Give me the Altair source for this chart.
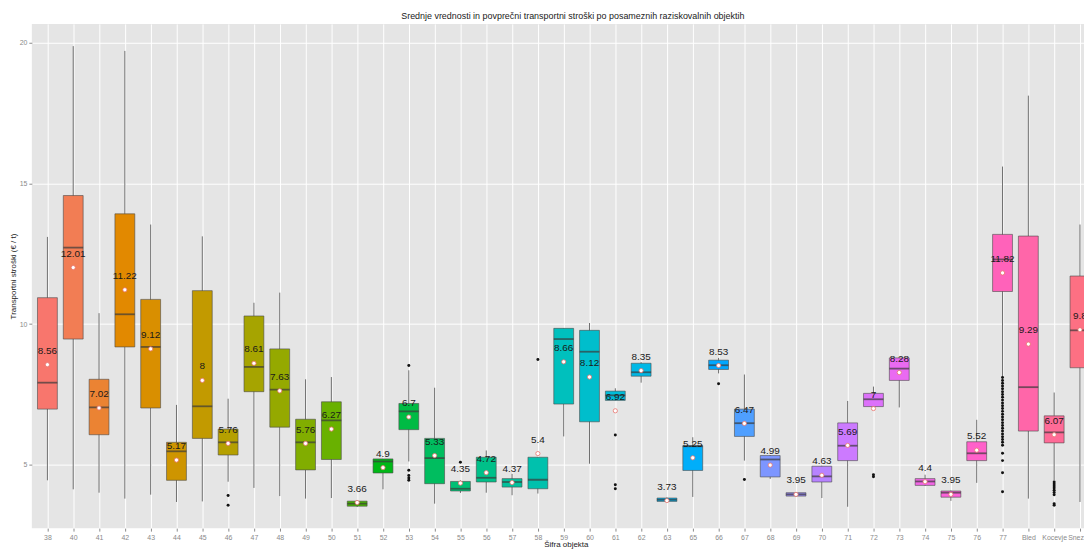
import math
import altair as alt
import pandas as pd

# ---------------- data ----------------
categories = ["38", "40", "41", "42", "43", "44", "45", "46", "47", "48", "49", "50",
              "51", "52", "53", "54", "55", "56", "57", "58", "59", "60", "61", "62",
              "63", "65", "66", "67", "68", "69", "70", "71", "72", "73", "74", "75",
              "76", "77", "Bled", "Kocevje", "Sneznik"]

q1 = [6.98, 9.47, 6.07, 9.19, 7.02, 4.45, 5.94, 5.35, 7.60, 6.34, 4.82, 5.19,
      3.53, 4.71, 6.25, 4.33, 4.07, 4.39, 4.21, 4.15, 7.16, 6.53, 7.29, 8.15,
      3.70, 4.80, 8.39, 6.01, 4.57, 3.89, 4.39, 5.15, 7.07, 8.00, 4.27, 3.85,
      5.15, 11.16, 6.20, 5.78, 8.45]
median = [7.92, 12.72, 7.04, 10.35, 9.19, 5.48, 7.08, 5.80, 8.48, 7.67, 5.80, 6.58,
          3.62, 5.12, 6.90, 5.24, 4.15, 4.54, 4.39, 4.47, 9.47, 9.02, 7.47, 8.29,
          3.76, 5.66, 8.54, 6.48, 5.19, 3.95, 4.59, 5.68, 7.33, 8.42, 4.41, 4.01,
          5.41, 12.30, 7.76, 6.15, 9.78]
q3 = [10.94, 14.57, 8.04, 13.92, 10.88, 5.80, 11.19, 6.27, 10.29, 9.12, 6.62, 7.24,
      3.71, 5.21, 7.18, 5.94, 4.41, 5.27, 4.51, 5.27, 9.85, 9.78, 7.62, 8.61,
      3.82, 5.68, 8.72, 6.98, 5.33, 4.01, 4.95, 6.49, 7.54, 8.80, 4.51, 4.07,
      5.82, 13.19, 13.13, 6.74, 11.71]
whisker_lo = [4.45, 4.13, 4.01, 3.80, 3.94, 3.68, 3.70, 4.40, 4.18, 3.89, 3.80, 3.82,
              3.50, 4.13, 5.12, 3.62, 4.00, 4.01, 3.92, 3.98, 6.01, 5.04, 7.29, 7.92,
              3.68, 3.86, 8.25, 5.15, 4.50, 3.87, 3.82, 3.51, 7.00, 7.04, 4.25, 3.72,
              4.36, 8.13, 3.80, 4.45, 3.68]
whisker_hi = [13.10, 19.88, 10.39, 19.71, 13.54, 7.13, 13.12, 7.35, 10.76, 11.12, 8.04, 8.12,
              3.75, 5.21, 8.36, 7.74, 4.45, 5.51, 4.68, 5.27, 9.85, 10.04, 7.72, 8.65,
              3.84, 5.98, 8.80, 8.21, 5.35, 4.03, 4.97, 7.27, 7.78, 8.80, 4.65, 4.09,
              6.60, 15.60, 18.12, 7.57, 13.54]
means = [8.56, 12.01, 7.02, 11.22, 9.12, 5.17, 8.0, 5.76, 8.61, 7.63, 5.76, 6.27,
         3.66, 4.9, 6.7, 5.33, 4.35, 4.72, 4.37, 5.4, 8.66, 8.12, 6.92, 8.35,
         3.73, 5.25, 8.53, 6.47, 4.99, 3.95, 4.63, 5.69, 7.0, 8.28, 4.4, 3.95,
         5.52, 11.82, 9.29, 6.07, 9.8]

outlier_cat = (["46"] * 2 + ["53"] * 5 + ["55"] + ["58"] + ["61"] * 3 + ["66"] + ["67"]
               + ["72"] * 2 + ["77"] * 29 + ["Kocevje"] * 9)
outlier_val = [3.91, 3.56,
               8.53, 4.81, 4.62, 4.53, 4.45,
               5.09,
               8.74,
               6.06, 4.29, 4.15,
               7.88,
               4.48,
               4.65, 4.58,
               8.10, 8.00, 7.90, 7.80, 7.70, 7.60, 7.50, 7.40, 7.30, 7.20, 7.10, 7.00,
               6.90, 6.80, 6.70, 6.60, 6.50, 6.40, 6.30, 6.20, 6.10, 6.00, 5.90, 5.80,
               5.70, 5.41, 5.15, 4.72, 4.04,
               4.39, 4.32, 4.25, 4.18, 4.10, 4.02, 3.94, 3.62, 3.56]

y_ticks = [5, 10, 15, 20]


# ---------------- ggplot-like hue palette ----------------
def hcl_hex(h, c=100.0, l=65.0):
    hr = math.radians(h)
    u, v = c * math.cos(hr), c * math.sin(hr)
    Xn, Yn, Zn = 95.047, 100.0, 108.883
    den = Xn + 15 * Yn + 3 * Zn
    un, vn = 4 * Xn / den, 9 * Yn / den
    Y = Yn * (((l + 16) / 116) ** 3 if l > 8 else l / 903.3)
    up = u / (13 * l) + un
    vp = v / (13 * l) + vn
    X = Y * 9 * up / (4 * vp)
    Z = Y * (12 - 3 * up - 20 * vp) / (4 * vp)
    X, Y, Z = X / 100, Y / 100, Z / 100
    r = 3.240479 * X - 1.537150 * Y - 0.498535 * Z
    g = -0.969256 * X + 1.875992 * Y + 0.041556 * Z
    b = 0.055648 * X - 0.204043 * Y + 1.057311 * Z

    def gam(t):
        t = 12.92 * t if t <= 0.0031308 else 1.055 * t ** (1 / 2.4) - 0.055
        return int(round(max(0.0, min(1.0, t)) * 255))

    return "#{:02X}{:02X}{:02X}".format(gam(r), gam(g), gam(b))


n = len(categories)
palette = [hcl_hex(15 + i * 360.0 / n) for i in range(n)]
index = {c: i for i, c in enumerate(categories)}

boxes = pd.DataFrame({
    "obj": categories, "pos": list(range(n)), "q1": q1, "median": median, "q3": q3,
    "lo": whisker_lo, "hi": whisker_hi, "mean": means,
    "label": [f"{m:g}" for m in means],
})
outliers = pd.DataFrame({"obj": outlier_cat, "pos": [index[c] for c in outlier_cat],
                         "val": outlier_val})

# x: one unit per object; the panel is cut at the right edge like the reference
xscale = alt.Scale(domain=[-0.604, 40.156], nice=False, zero=False, padding=0)
yscale = alt.Scale(domain=[2.75, 20.67], nice=False, zero=False, padding=0)

label_expr = "[" + ",".join(f"'{c}'" for c in categories) + "][datum.value]"
x_axis = alt.Axis(title="Šifra objekta", values=list(range(n)), labelExpr=label_expr,
                  labelAngle=0, labelOverlap=False, labelBound=False, labelFlush=False,
                  titleX=538, titleY=12, titleBaseline="top")
y_axis = alt.Axis(title="Transportni stroški (€ / t)", values=y_ticks)


def X():
    return alt.X("pos:Q", scale=xscale, axis=x_axis)


def Y(field):
    return alt.Y(field, scale=yscale, axis=y_axis)


base = alt.Chart(boxes)

whiskers = base.mark_rule(color="#6f6f6f", strokeWidth=1).encode(
    x=X(), y=Y("lo:Q"), y2="hi:Q",
)

box = base.mark_bar(size=20, stroke="#4a4a4a", strokeWidth=0.6, orient="vertical").encode(
    x=X(), y=Y("q1:Q"), y2="q3:Q",
    fill=alt.Fill("obj:N", scale=alt.Scale(domain=categories, range=palette), legend=None),
)

med = base.mark_tick(size=20, thickness=1.8, color="#3a3a3a", orient="horizontal").encode(
    x=X(), y=Y("median:Q"),
)

outl = alt.Chart(outliers).mark_circle(size=9, color="#111111", opacity=1).encode(
    x=X(), y=Y("val:Q"),
)

mean_pt = base.mark_point(shape="circle", filled=True, fill="white", stroke="#E8736C",
                          strokeWidth=0.8, size=18, opacity=1).encode(
    x=X(), y=Y("mean:Q"),
)

labels = base.mark_text(dy=-14, fontSize=10, color="#1a1a1a", baseline="middle",
                        font="Liberation Sans").encode(
    x=X(), y=Y("mean:Q"), text="label:N",
)

chart = alt.layer(whiskers, box, med, outl, mean_pt, labels).properties(
    width=1060,
    height=508,
    title=alt.TitleParams(
        "Srednje vrednosti in povprečni transportni stroški po posameznih raziskovalnih objektih",
        fontSize=9, font="Liberation Sans", fontWeight="normal", color="#222222",
        anchor="middle", offset=3, dx=15,
    ),
    autosize=alt.AutoSizeParams(type="none"),
    padding={"left": 24, "top": 14, "right": 0, "bottom": 20},
).configure_view(
    fill="#E5E5E5", stroke=None,
).configure_axis(
    domain=False, grid=True, gridColor="#FFFFFF", gridWidth=1,
    tickColor="#8a8a8a", tickSize=3, labelColor="#8a8a8a", labelFontSize=7,
    labelFont="Liberation Sans", titleFont="Liberation Sans", titleFontSize=8,
    titleFontWeight="normal", titleColor="#222222", labelPadding=2, titlePadding=2,
)

chart.save("out.html", embed_options={"renderer": "svg", "actions": False})
